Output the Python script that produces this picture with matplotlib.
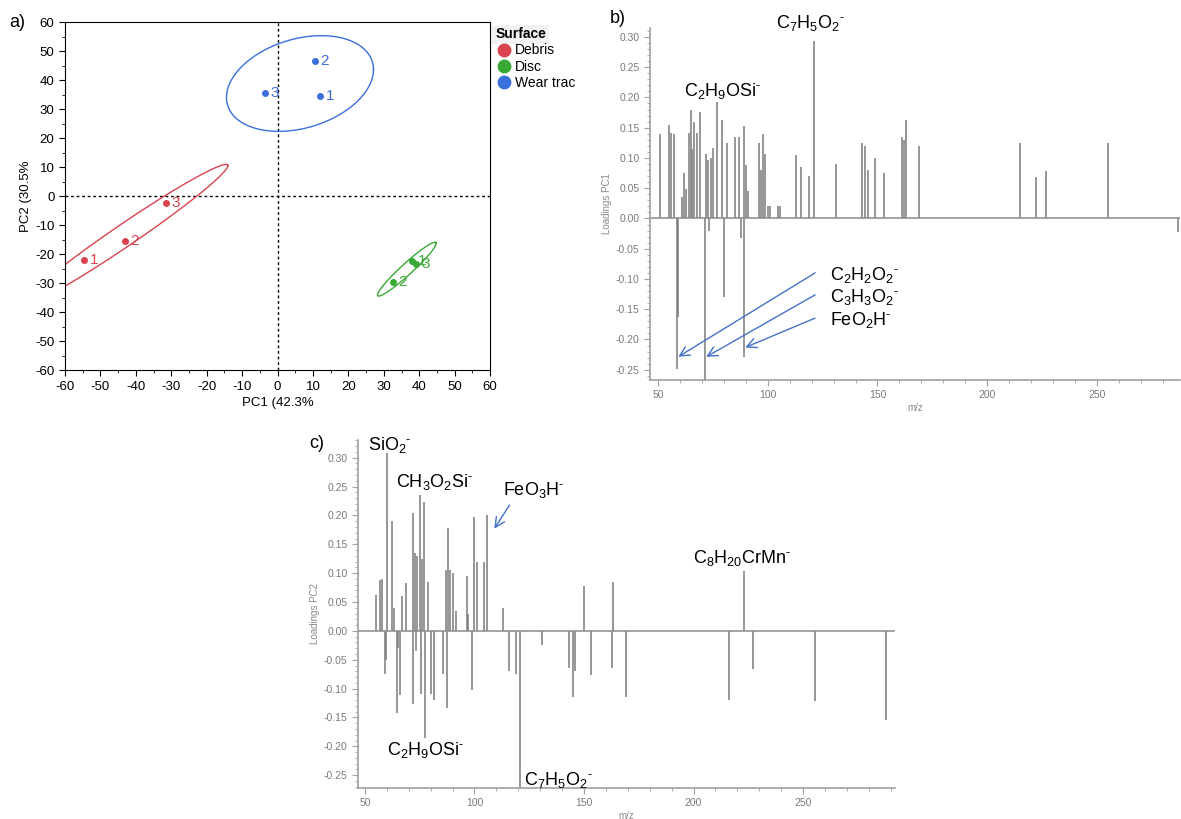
import numpy as np
import matplotlib
matplotlib.use('Agg')
import matplotlib.pyplot as plt
from matplotlib.lines import Line2D
from matplotlib.ticker import MultipleLocator, FormatStrFormatter

plt.rcParams['font.family'] = ['Liberation Sans', 'DejaVu Sans']
plt.rcParams['mathtext.fontset'] = 'custom'
plt.rcParams['mathtext.rm'] = 'Liberation Sans'
plt.rcParams['axes.unicode_minus'] = False

# a) PCA scores
groups = ['Debris', 'Disc', 'Wear trac']
colors = ['#d9434f', '#39a935', '#3b6fdc']
sample_ids = ['1', '2', '3']
pc1 = [[-54.5, -43.0, -31.5], [38.0, 32.5, 39.0], [12.0, 10.5, -3.5]]
pc2 = [[-22.0, -15.5, -2.5], [-22.5, -29.5, -23.5], [34.5, 46.5, 35.5]]
# confidence ellipse shape: spread along PC1, PC2 and correlation
ell_sx = [29.0, 8.3, 20.75]
ell_sy = [24.3, 9.3, 16.5]
ell_rho = [0.982, 0.96, 0.29]

# b) loadings PC1
mz_b = [51, 55, 56, 57.5, 58.5, 59.3, 61, 62, 63, 64, 65, 65.6, 66.4, 68, 69,
        71.5, 72, 73, 73.3, 74, 75, 77, 79, 80, 81.5, 85, 87, 88, 89, 89.3,
        90, 91, 96, 97, 98, 99, 100, 101, 104.5, 105.5, 113, 115, 119, 121,
        131, 143, 144.5, 145.5, 149, 153, 161, 162, 163, 169, 215, 222, 227,
        255, 287]
load_b = [0.14, 0.155, 0.142, 0.14, -0.248, -0.163, 0.036, 0.075, 0.048,
          0.142, 0.18, 0.115, 0.16, 0.142, 0.176,
          -0.29, 0.107, 0.097, -0.02, 0.1, 0.117, 0.192, 0.163, -0.13, 0.124,
          0.134, 0.135, -0.032, -0.229, 0.152,
          0.089, 0.045, 0.125, 0.08, 0.14, 0.107, 0.02, 0.02, 0.02, 0.02,
          0.105, 0.085, 0.07, 0.294,
          0.09, 0.125, 0.12, 0.08, 0.10, 0.075, 0.134, 0.13, 0.162, 0.12,
          0.124, 0.068, 0.078, 0.124, -0.022]

# c) loadings PC2
mz_c = [55, 56.8, 58, 59, 59.6, 60.3, 62.3, 63.2, 64.5, 65, 66, 67, 69, 71.8,
        72, 73, 73.4, 74, 75, 75.5, 76, 77, 77.5, 79, 80.4, 81.5, 85.5, 87,
        87.3, 88, 89, 90, 91.4, 96.5, 97, 99, 100, 101, 104.5, 105.6, 113,
        115.8, 119, 121, 131, 143, 145, 146, 150, 153.3, 162.6, 163.4, 169,
        216, 223, 227, 255.5, 288]
load_c = [0.062, 0.088, 0.09, -0.074, -0.05, 0.308, 0.19, 0.04, -0.143,
          -0.03, -0.111, 0.06, 0.083, -0.127,
          0.204, 0.135, -0.035, 0.13, 0.236, -0.11, 0.125, 0.224, -0.186,
          0.085, -0.11, -0.12, -0.075, 0.105,
          -0.134, 0.178, 0.105, 0.10, 0.035, 0.095, 0.03, -0.102, 0.198,
          0.12, 0.12, 0.20, 0.04,
          -0.07, -0.075, -0.29, -0.025, -0.065, -0.114, -0.07, 0.078, -0.076,
          -0.064, 0.085, -0.114,
          -0.12, 0.103, -0.066, -0.122, -0.154]

assert len(mz_b) == len(load_b)
assert len(mz_c) == len(load_c)


def ion(formula):
    # formula like 'C_7H_5O_2' -> mathtext with a small raised hyphen
    return r'$\mathregular{' + formula + r'}^{\text{-}}$'


fig = plt.figure(figsize=(11.81, 8.19), dpi=100)

# ---- panel a ----
ax = fig.add_axes([0.055, 0.548, 0.36, 0.425])
ax.axhline(0, color='black', ls=(0, (2, 2)), lw=1)
ax.axvline(0, color='black', ls=(0, (2, 2)), lw=1)
t = np.linspace(0, 2 * np.pi, 300)
for i, g in enumerate(groups):
    xs, ys, c = pc1[i], pc2[i], colors[i]
    cx, cy = np.mean(xs), np.mean(ys)
    r = ell_rho[i]
    ex = cx + ell_sx[i] * np.cos(t)
    ey = cy + ell_sy[i] * (r * np.cos(t) + np.sqrt(1 - r ** 2) * np.sin(t))
    ax.plot(ex, ey, color=c, lw=1)
    ax.plot(xs, ys, 'o', color=c, ms=4)
    for x, y, s in zip(xs, ys, sample_ids):
        ax.annotate(s, (x, y), xytext=(4, 0), textcoords='offset points',
                    va='center', ha='left', color=c, fontsize=11)
ax.set_xlim(-60, 60)
ax.set_ylim(-60, 60)
ax.xaxis.set_major_locator(MultipleLocator(10))
ax.yaxis.set_major_locator(MultipleLocator(10))
ax.xaxis.set_minor_locator(MultipleLocator(5))
ax.yaxis.set_minor_locator(MultipleLocator(5))
ax.tick_params(which='both', direction='out', labelsize=9.5)
ax.tick_params(which='major', length=4)
ax.tick_params(which='minor', length=2)
ax.set_xlabel('PC1 (42.3%', fontsize=9.5, labelpad=3)
ax.set_ylabel('PC2 (30.5%', fontsize=9.5, labelpad=2)
handles = [Line2D([], [], marker='o', ls='', color=c, ms=9) for c in colors]
leg = ax.legend(handles, groups, loc='upper left', bbox_to_anchor=(1.012, 0.985),
                frameon=False, title='Surface', alignment='left', fontsize=10,
                handletextpad=0.2, handlelength=1.2, labelspacing=0.15,
                borderaxespad=0, borderpad=0)
leg.get_title().set_fontweight('bold')
leg.get_title().set_fontsize(10)
leg.get_title().set_bbox(dict(facecolor='#f2f2f2', edgecolor='none', pad=2))
fig.text(0.008, 0.972, 'a)', fontsize=13, va='center')


def draw_loadings(ax, mz, load, xlim, ylim, ylabel):
    ax.vlines(mz, 0, load, color='#7a7a7a', lw=1.1)
    ax.axhline(0, color='#8a8a8a', lw=1.1)
    ax.set_xlim(*xlim)
    ax.set_ylim(*ylim)
    for s in ['top', 'right']:
        ax.spines[s].set_visible(False)
    for s in ['left', 'bottom']:
        ax.spines[s].set_color('#a0a0a0')
        ax.spines[s].set_linewidth(1.2)
    ax.xaxis.set_major_locator(MultipleLocator(50))
    ax.xaxis.set_minor_locator(MultipleLocator(10))
    ax.yaxis.set_major_locator(MultipleLocator(0.05))
    ax.yaxis.set_minor_locator(MultipleLocator(0.01))
    ax.yaxis.set_major_formatter(FormatStrFormatter('%.2f'))
    ax.tick_params(which='both', direction='out', colors='#a0a0a0',
                   labelcolor='#7a7a7a', labelsize=7.5)
    ax.tick_params(which='major', length=4)
    ax.tick_params(which='minor', length=2)
    ax.set_xlabel('m/z', fontsize=7, color='#8a8a8a', labelpad=2)
    ax.set_ylabel(ylabel, fontsize=7, color='#8a8a8a', labelpad=3)


arrow = dict(arrowstyle='->,head_length=0.7,head_width=0.35', color='#4472c4', lw=1)

# ---- panel b ----
axb = fig.add_axes([0.5504, 0.536, 0.4491, 0.43])
draw_loadings(axb, mz_b, load_b, (46.4, 288), (-0.267, 0.315), 'Loadings PC1')
axb.text(119.5, 0.323, ion('C_7H_5O_2'), fontsize=13, ha='center', va='center')
axb.text(79.5, 0.211, ion('C_2H_9OSi'), fontsize=13, ha='center', va='center')
axb.text(128.2, -0.094, ion('C_2H_2O_2'), fontsize=13, ha='left', va='center')
axb.text(128.2, -0.130, ion('C_3H_3O_2'), fontsize=13, ha='left', va='center')
axb.text(128.2, -0.167, ion('FeO_2H'), fontsize=13, ha='left', va='center')
axb.annotate('', xy=(58.2, -0.231), xytext=(122.7, -0.0875), arrowprops=arrow)
axb.annotate('', xy=(70.9, -0.231), xytext=(122.7, -0.124), arrowprops=arrow)
axb.annotate('', xy=(88.6, -0.215), xytext=(122.7, -0.163), arrowprops=arrow)
fig.text(0.516, 0.978, 'b)', fontsize=13, va='center')

# ---- panel c ----
axc = fig.add_axes([0.303, 0.038, 0.455, 0.425])
draw_loadings(axc, mz_c, load_c, (46.8, 292), (-0.272, 0.331), 'Loadings PC2')
axc.text(61.4, 0.322, ion('SiO_2'), fontsize=13, ha='center', va='center')
axc.text(82, 0.258, ion('CH_3O_2Si'), fontsize=13, ha='center', va='center')
axc.text(127.2, 0.244, ion('FeO_3H'), fontsize=13, ha='center', va='center')
axc.text(77.9, -0.206, ion('C_2H_9OSi'), fontsize=13, ha='center', va='center')
axc.text(138.1, -0.258, ion('C_7H_5O_2'), fontsize=13, ha='center', va='center')
axc.text(222.1, 0.127, ion('C_8H_{20}CrMn'), fontsize=13, ha='center', va='center')
axc.annotate('', xy=(108.4, 0.173), xytext=(116.7, 0.222), arrowprops=arrow)
fig.text(0.262, 0.459, 'c)', fontsize=13, va='center')

fig.savefig('out.png', dpi=100)
